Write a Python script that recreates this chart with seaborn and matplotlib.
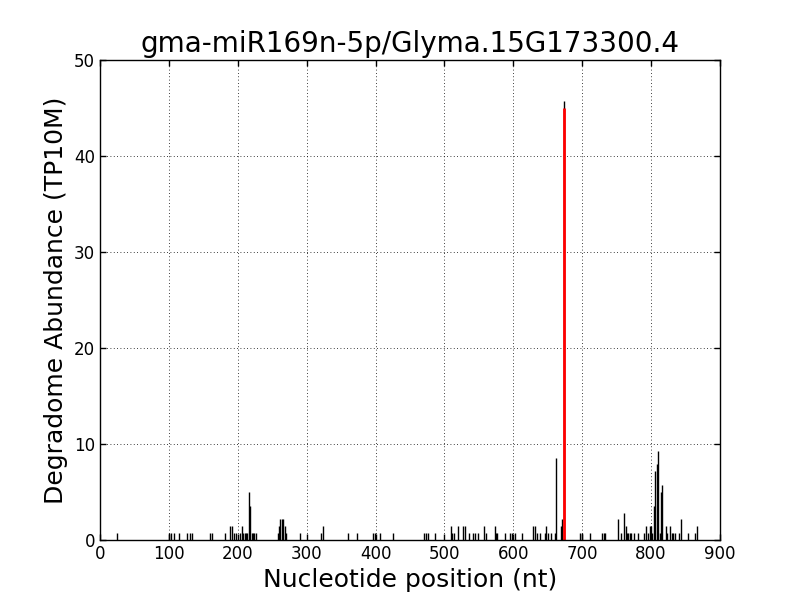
import matplotlib
matplotlib.use("Agg")
import matplotlib.pyplot as plt
import pandas as pd
import seaborn as sns

# === data ===
title = "gma-miR169n-5p/Glyma.15G173300.4"
positions = [
    25, 100, 103, 107, 115, 127, 130, 133, 159, 163, 181, 189, 191, 194, 197,
    203, 206, 208, 210, 212, 214, 216, 218, 220, 222, 224, 226,
    259, 260, 262, 264, 266, 268, 270, 290, 321, 324, 360, 373, 397, 399,
    407, 426, 471, 473, 476, 486, 509, 511, 514, 519, 527, 530, 535, 541,
    545, 548, 558, 561, 573, 575, 577, 588, 595, 598, 602, 612, 629, 631,
    634, 639, 646, 648, 650, 655, 660, 662, 669, 671, 674,
    697, 700, 712, 729, 731, 733, 752, 757, 761, 763, 765, 767, 769, 771,
    775, 781, 790, 793, 795, 798, 800, 802, 804, 806, 808, 810, 813, 815,
    816, 821, 823, 827, 830, 832, 835, 840, 843, 854, 864, 866,
]
abundance = [
    0.72, 0.72, 0.72, 0.72, 0.72, 0.72, 0.72, 0.72, 0.72, 0.72, 0.72, 1.43, 1.43, 0.72, 0.72,
    0.72, 1.43, 0.72, 0.72, 0.72, 0.72, 5.01, 3.58, 0.72, 0.72, 0.72, 0.72,
    0.72, 1.43, 2.15, 2.15, 2.15, 1.43, 0.72, 0.72, 0.72, 1.43, 0.72, 0.72, 0.72, 0.72,
    0.72, 0.72, 0.72, 0.72, 0.72, 0.72, 1.43, 0.72, 0.72, 1.43, 1.43, 1.43, 0.72, 0.72,
    0.72, 0.72, 1.43, 0.72, 1.43, 0.72, 0.72, 0.72, 0.72, 0.72, 0.72, 0.72, 1.43, 1.43,
    0.72, 0.72, 0.72, 1.43, 0.72, 0.72, 0.72, 8.59, 1.43, 2.15, 45.7,
    0.72, 0.72, 0.72, 0.72, 0.72, 0.72, 2.15, 0.72, 2.86, 1.43, 0.72, 0.72, 0.72, 0.72,
    0.72, 0.72, 0.72, 1.43, 0.72, 1.43, 1.43, 0.72, 3.58, 7.16, 7.88, 9.31, 0.72, 5.01,
    5.73, 1.43, 0.72, 1.43, 0.72, 0.72, 0.72, 0.72, 2.15, 0.72, 0.72, 1.43,
]
target_pos = 674
target_abundance = 45.0

df = pd.DataFrame({"pos": positions, "tp10m": abundance})

# === style ===
sns.set_style("white")
plt.rcParams["font.family"] = ["DejaVu Sans"]
plt.rcParams["xtick.direction"] = "in"
plt.rcParams["ytick.direction"] = "in"
for key in ["text.color", "axes.labelcolor", "xtick.color", "ytick.color"]:
    plt.rcParams[key] = "black"

fig, ax = plt.subplots(figsize=(8, 6), dpi=100)
fig.subplots_adjust(left=0.125, right=0.9, bottom=0.1, top=0.9)

# all cleavage sites in black, the target site in red
ax.vlines(df["pos"], 0, df["tp10m"], color="black", linewidth=1)
ax.vlines([target_pos], 0, [target_abundance], color="red", linewidth=2)

ax.set_xlim(0, 900)
ax.set_ylim(0, 50)
ax.set_xticks(range(0, 901, 100))
ax.set_yticks(range(0, 51, 10))
ax.tick_params(axis="both", labelsize=12, length=4, width=1, color="black",
               labelcolor="black", top=True, right=True, bottom=True, left=True)

ax.grid(True, color="black", linestyle=(0, (1, 3)), linewidth=0.6)
for sp in ax.spines.values():
    sp.set_color("black")
    sp.set_linewidth(1)

ax.set_title(title, fontsize=20, color="black")
ax.set_xlabel("Nucleotide position (nt)", fontsize=18, color="black")
ax.set_ylabel("Degradome Abundance (TP10M)", fontsize=18, color="black")

fig.savefig("out.png", dpi=100)
plt.close(fig)
